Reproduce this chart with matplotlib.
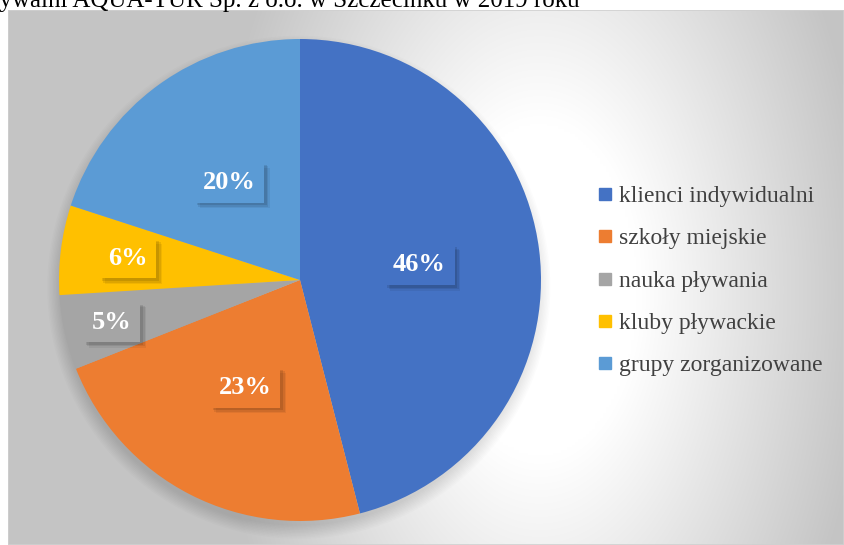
import numpy as np
import matplotlib
matplotlib.use("Agg")
import matplotlib.pyplot as plt
import matplotlib.patheffects as pe
from matplotlib.patches import Circle, Rectangle
from matplotlib.lines import Line2D

# data
categories = ["klienci indywidualni", "szkoły miejskie", "nauka pływania",
              "kluby pływackie", "grupy zorganizowane"]
shares = [46, 23, 5, 6, 20]
colors = ["#4472C4", "#ED7D31", "#A5A5A5", "#FFC000", "#5B9BD5"]
label_dist = [0.5, 0.5, 0.8, 0.72, 0.5]
title = "Struktura klientów Pływalni AQUA-TUR Sp. z o.o. w Szczecinku w 2019 roku"

W, H = 844, 545
fig = plt.figure(figsize=(W / 100, H / 100), dpi=100)
fig.patch.set_facecolor("white")

# chart area with radial gradient
bg = fig.add_axes([8 / W, 0, 1 - 8 / W, 1 - 10 / H])
bg.set_axis_off()
xx, yy = np.meshgrid(np.linspace(8, W, 300), np.linspace(10, H, 200))
d = np.sqrt(((xx - 540) / 330) ** 2 + ((yy - 290) / 560) ** 2)
t = np.clip((d - 0.3) / 0.7, 0, 1)
gray = 1.0 - t * (1.0 - 0.77)
bg.imshow(np.dstack([gray, gray, gray]), extent=[0, 1, 0, 1], aspect="auto",
          interpolation="bilinear")
bg.add_patch(Rectangle((0, 0), 1, 1, transform=bg.transAxes, fill=False,
                       edgecolor="#d0d0d0", lw=1.2))
bg.set_xlim(0, 1)
bg.set_ylim(0, 1)

# pie
cx, cy, r = 300, 280, 241
ax = fig.add_axes([(cx - r) / W, (H - cy - r) / H, 2 * r / W, 2 * r / H])
ax.set_axis_off()

# soft shadow under pie
for k in range(10):
    ax.add_patch(Circle((-0.005, -0.03), 0.99 + 0.006 * k, color="black",
                        alpha=0.011, lw=0, zorder=0, clip_on=False))

wedges, _ = ax.pie(shares, colors=colors, startangle=90, counterclock=False,
                   radius=1.0, wedgeprops=dict(linewidth=0))
for w in wedges:
    w.set_zorder(2)
ax.set_xlim(-1, 1)
ax.set_ylim(-1, 1)
ax.set_aspect("equal")

box_shadow = [
    pe.SimplePatchShadow(offset=(4, -4), shadow_rgbFace="black", alpha=0.06),
    pe.SimplePatchShadow(offset=(3, -3), shadow_rgbFace="black", alpha=0.08),
    pe.SimplePatchShadow(offset=(2, -2), shadow_rgbFace="black", alpha=0.10),
    pe.Normal(),
]
for w, v, c, dist in zip(wedges, shares, colors, label_dist):
    ang = np.deg2rad((w.theta1 + w.theta2) / 2)
    x, y = dist * np.cos(ang), dist * np.sin(ang)
    t_ = ax.text(x, y, f"{v}%", ha="center", va="center", fontsize=19,
                 fontweight="bold", family="Liberation Serif", color="white",
                 zorder=4, bbox=dict(boxstyle="square,pad=0.33", fc=c, ec="none"))
    t_.get_bbox_patch().set_path_effects(box_shadow)

# legend
handles = [Line2D([], [], marker="s", linestyle="none", markersize=9,
                  markerfacecolor=c, markeredgecolor=c) for c in colors]
fig.legend(handles, categories, loc="center left",
           bbox_to_anchor=(598 / W, 1 - 281 / H), frameon=False,
           prop={"family": "Liberation Serif", "size": 17},
           labelcolor="#404040", handlelength=0.6, handletextpad=0.3,
           labelspacing=0.88, borderpad=0, borderaxespad=0)

# title (cut off at top of the page)
fig.text(580 / W, 1 - 7 / H, title, ha="right", va="baseline",
         fontsize=18, family="Liberation Serif", color="black")

fig.savefig("out.png", dpi=100)
